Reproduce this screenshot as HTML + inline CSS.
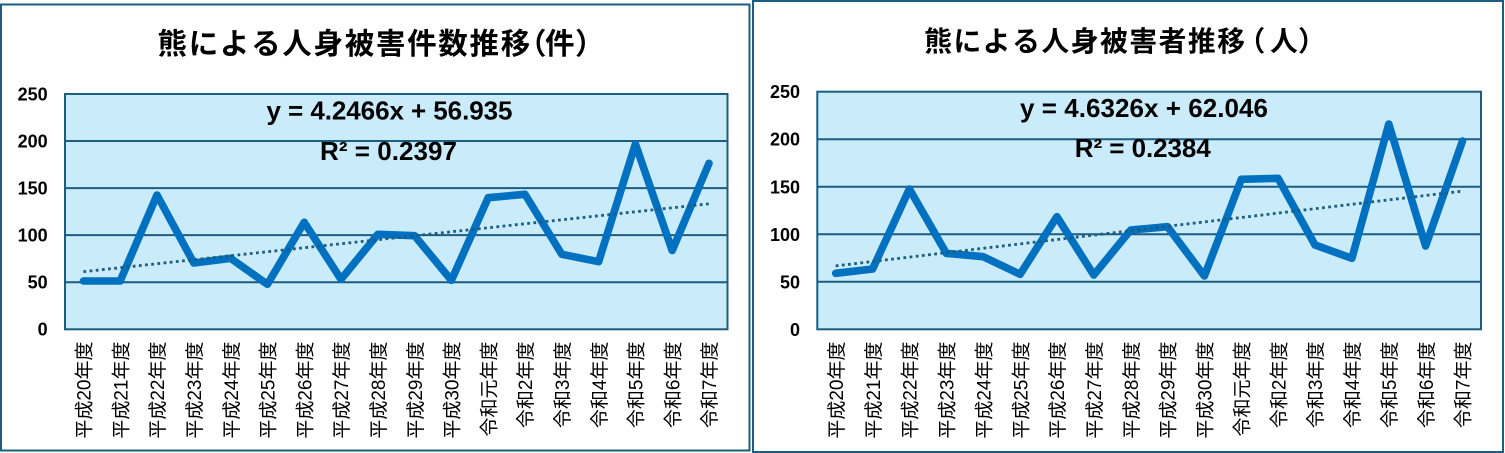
<!DOCTYPE html>
<html>
<head>
<meta charset="utf-8">
<style>
html,body{margin:0;padding:0;background:#fff;}
svg{display:block;}
.t{font-family:"Liberation Sans","Noto Sans CJK JP",sans-serif;font-weight:bold;fill:#000;}
.eq{font-family:"Liberation Sans",sans-serif;font-weight:bold;font-size:26px;fill:#000;}
.yl{font-family:"Liberation Sans",sans-serif;font-weight:bold;font-size:18px;fill:#000;}
.xl{font-family:"Liberation Sans","Noto Sans CJK JP",sans-serif;font-size:19px;fill:#000;}
</style>
</head>
<body>
<svg width="1505" height="453" viewBox="0 0 1505 453" xmlns="http://www.w3.org/2000/svg">
<rect x="0" y="0" width="1505" height="453" fill="#ffffff"/>

<!-- ===== LEFT CHART ===== -->
<rect x="1" y="4.5" width="748.5" height="446" fill="#ffffff" stroke="#1c5d80" stroke-width="2"/>
<text class="t" font-size="29.5" y="54" x="157.5 188.7 219.9 251.1 282.3 313.5 344.7 375.9 407.1 438.3 469.5 500.7 517 545 575">熊による人身被害件数推移（件）</text>

<rect x="65" y="94" width="662.5" height="235.3" fill="#c9ebfa"/>
<g stroke="#1c5d80" stroke-width="2">
<line x1="65" y1="141.06" x2="727.5" y2="141.06"/>
<line x1="65" y1="188.12" x2="727.5" y2="188.12"/>
<line x1="65" y1="235.18" x2="727.5" y2="235.18"/>
<line x1="65" y1="282.24" x2="727.5" y2="282.24"/>
</g>
<rect x="65" y="94" width="662.5" height="235.3" fill="none" stroke="#1c5d80" stroke-width="2"/>

<polyline fill="none" stroke="#0070c0" stroke-width="7.6" stroke-linejoin="round" stroke-linecap="round"
points="83.4,281 120.2,281 157,195 193.8,263 230.6,258.3 267.4,284.3 304.2,222.3 341,279.3 377.8,234.3 414.6,235.7 451.4,280.3 488.2,197.7 525,194.3 561.8,254.3 598.6,261.7 635.4,144 672.2,250.5 709,163.3"/>
<line x1="83.4" y1="271.7" x2="709" y2="203.8" stroke="#1c5d80" stroke-width="2.8" stroke-dasharray="2.8 3.4"/>

<text class="eq" x="266.5" y="119.5" textLength="246" lengthAdjust="spacing">y = 4.2466x + 56.935</text>
<text class="eq" x="320" y="160" textLength="137" lengthAdjust="spacing">R² = 0.2397</text>

<g class="yl" text-anchor="end">
<text x="47.7" y="100.3">250</text>
<text x="47.7" y="147.4">200</text>
<text x="47.7" y="194.4">150</text>
<text x="47.7" y="241.5">100</text>
<text x="47.7" y="288.5">50</text>
<text x="47.7" y="335.6">0</text>
</g>

<g class="xl" text-anchor="end">
<text transform="translate(90.6,341.5) rotate(-90)">平成20年度</text>
<text transform="translate(127.4,341.5) rotate(-90)">平成21年度</text>
<text transform="translate(164.2,341.5) rotate(-90)">平成22年度</text>
<text transform="translate(201,341.5) rotate(-90)">平成23年度</text>
<text transform="translate(237.8,341.5) rotate(-90)">平成24年度</text>
<text transform="translate(274.6,341.5) rotate(-90)">平成25年度</text>
<text transform="translate(311.4,341.5) rotate(-90)">平成26年度</text>
<text transform="translate(348.2,341.5) rotate(-90)">平成27年度</text>
<text transform="translate(385,341.5) rotate(-90)">平成28年度</text>
<text transform="translate(421.8,341.5) rotate(-90)">平成29年度</text>
<text transform="translate(458.6,341.5) rotate(-90)">平成30年度</text>
<text transform="translate(495.4,341.5) rotate(-90)">令和元年度</text>
<text transform="translate(532.2,341.5) rotate(-90)">令和2年度</text>
<text transform="translate(569,341.5) rotate(-90)">令和3年度</text>
<text transform="translate(605.8,341.5) rotate(-90)">令和4年度</text>
<text transform="translate(642.6,341.5) rotate(-90)">令和5年度</text>
<text transform="translate(679.4,341.5) rotate(-90)">令和6年度</text>
<text transform="translate(716.2,341.5) rotate(-90)">令和7年度</text>
</g>

<!-- ===== RIGHT CHART ===== -->
<rect x="753" y="1" width="750" height="451" fill="#ffffff" stroke="#1c5d80" stroke-width="2"/>
<text class="t" font-size="27.8" y="51" x="924.2 953.5 982.8 1012.1 1041.4 1070.7 1100 1129.3 1158.6 1187.9 1217.2 1237.5 1270 1298">熊による人身被害者推移（人）</text>

<rect x="817.3" y="91.7" width="663.7" height="237.6" fill="#c9ebfa"/>
<g stroke="#1c5d80" stroke-width="2">
<line x1="817.3" y1="139.22" x2="1481" y2="139.22"/>
<line x1="817.3" y1="186.74" x2="1481" y2="186.74"/>
<line x1="817.3" y1="234.26" x2="1481" y2="234.26"/>
<line x1="817.3" y1="281.78" x2="1481" y2="281.78"/>
</g>
<rect x="817.3" y="91.7" width="663.7" height="237.6" fill="none" stroke="#1c5d80" stroke-width="2"/>

<polyline fill="none" stroke="#0070c0" stroke-width="7.6" stroke-linejoin="round" stroke-linecap="round"
points="835.7,273.3 872.6,269 909.4,189 946.3,253.3 983.2,256.7 1020.1,274.3 1056.9,216.7 1093.8,275 1130.7,230 1167.5,226.7 1204.4,276 1241.3,179.3 1278.1,178.3 1315,245 1351.9,258.3 1388.8,124 1425.6,246 1462.5,141"/>
<line x1="835.7" y1="265.9" x2="1462.5" y2="191.1" stroke="#1c5d80" stroke-width="2.8" stroke-dasharray="2.8 3.4"/>

<text class="eq" x="1020" y="117" textLength="248" lengthAdjust="spacing">y = 4.6326x + 62.046</text>
<text class="eq" x="1074.8" y="157" textLength="136" lengthAdjust="spacing">R² = 0.2384</text>

<g class="yl" text-anchor="end">
<text x="800" y="98.2">250</text>
<text x="800" y="145.7">200</text>
<text x="800" y="193.3">150</text>
<text x="800" y="240.8">100</text>
<text x="800" y="288.3">50</text>
<text x="800" y="335.8">0</text>
</g>

<g class="xl" text-anchor="end">
<text transform="translate(842.9,341.5) rotate(-90)">平成20年度</text>
<text transform="translate(879.8,341.5) rotate(-90)">平成21年度</text>
<text transform="translate(916.6,341.5) rotate(-90)">平成22年度</text>
<text transform="translate(953.5,341.5) rotate(-90)">平成23年度</text>
<text transform="translate(990.4,341.5) rotate(-90)">平成24年度</text>
<text transform="translate(1027.3,341.5) rotate(-90)">平成25年度</text>
<text transform="translate(1064.1,341.5) rotate(-90)">平成26年度</text>
<text transform="translate(1101,341.5) rotate(-90)">平成27年度</text>
<text transform="translate(1137.9,341.5) rotate(-90)">平成28年度</text>
<text transform="translate(1174.7,341.5) rotate(-90)">平成29年度</text>
<text transform="translate(1211.6,341.5) rotate(-90)">平成30年度</text>
<text transform="translate(1248.5,341.5) rotate(-90)">令和元年度</text>
<text transform="translate(1285.3,341.5) rotate(-90)">令和2年度</text>
<text transform="translate(1322.2,341.5) rotate(-90)">令和3年度</text>
<text transform="translate(1359.1,341.5) rotate(-90)">令和4年度</text>
<text transform="translate(1396,341.5) rotate(-90)">令和5年度</text>
<text transform="translate(1432.8,341.5) rotate(-90)">令和6年度</text>
<text transform="translate(1469.7,341.5) rotate(-90)">令和7年度</text>
</g>
</svg>
</body>
</html>
